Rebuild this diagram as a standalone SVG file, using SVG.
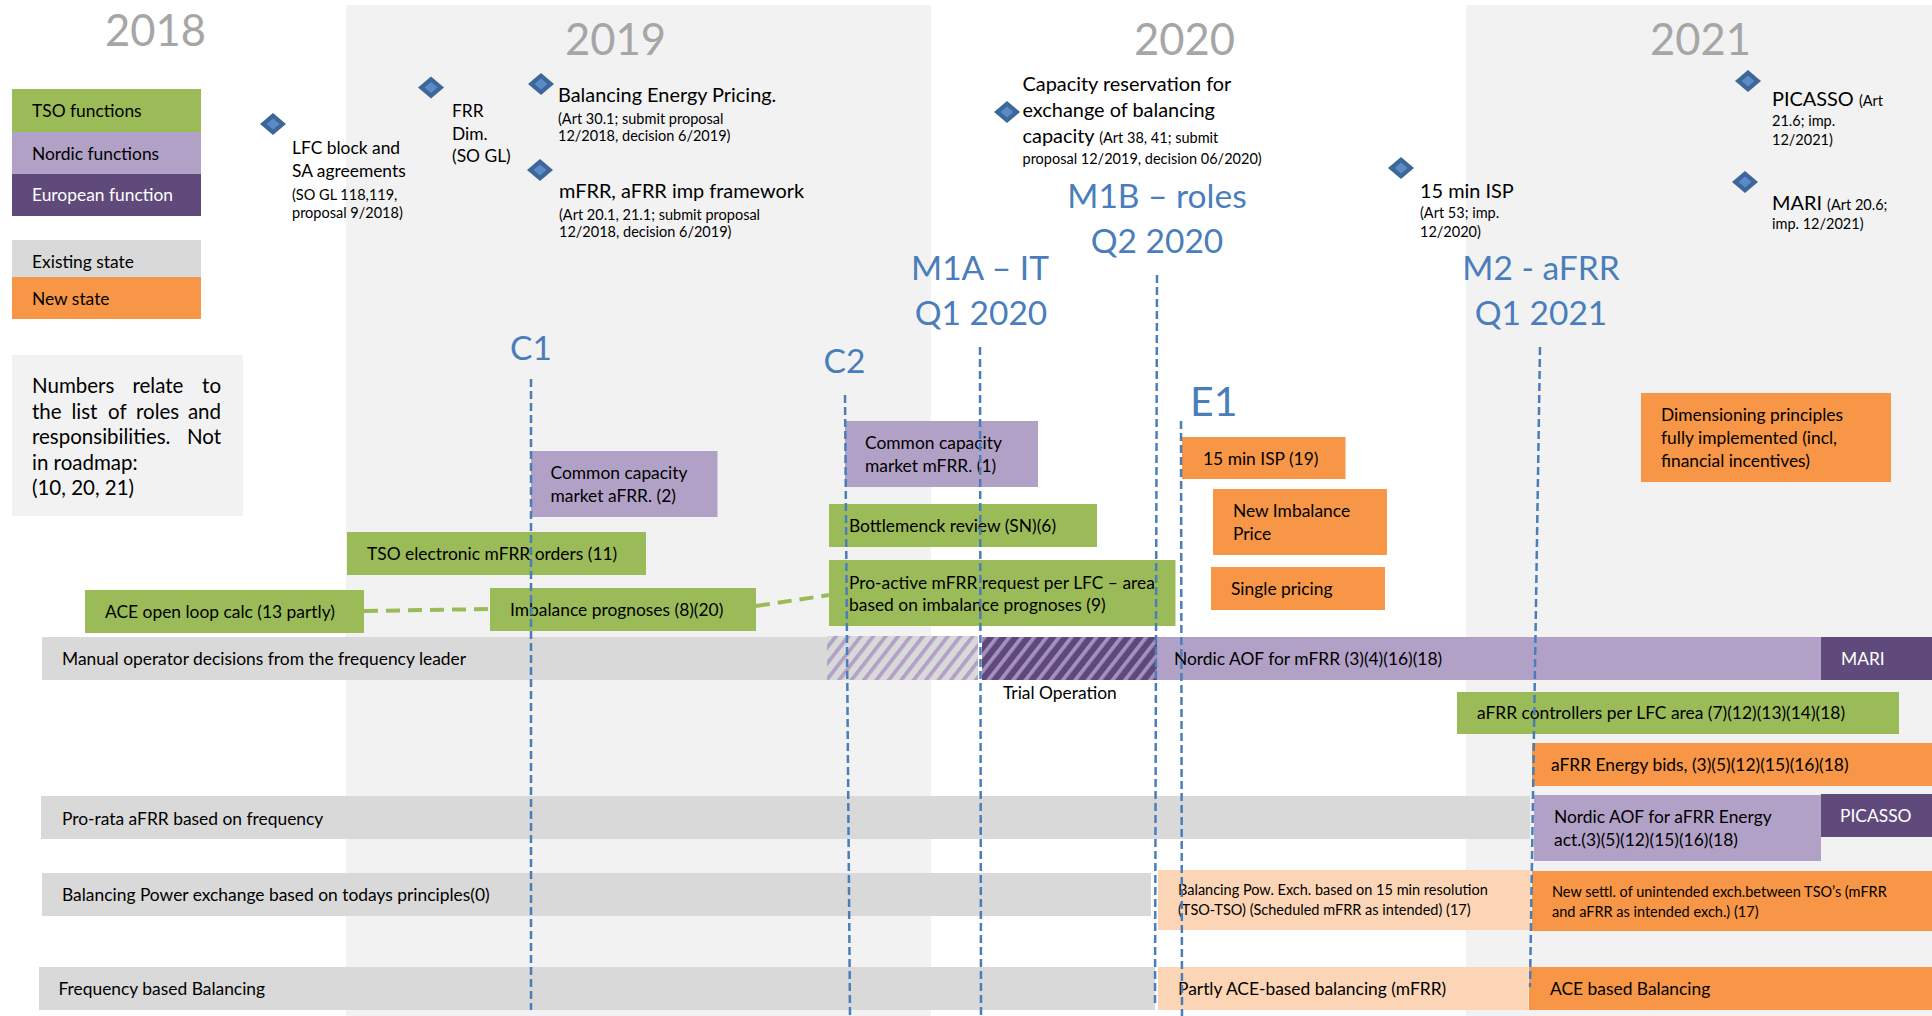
<svg xmlns="http://www.w3.org/2000/svg" xmlns:xlink="http://www.w3.org/1999/xlink" width="1932" height="1016" viewBox="0 0 1932 1016">
<style>
text{font-family:Lato,"Liberation Sans",sans-serif;fill:#000}
.b{font-size:17.4px}
.s{font-size:14.5px}
.m{font-size:19.9px}
.n{font-size:20.5px}
.ml{font-size:33.5px;fill:#4a7ebb}
.e1{font-size:41px;fill:#4a7ebb}
.yr{font-size:43.5px;fill:#a6a6a6}
.w{fill:#fff}
.tso{fill:#9bbb59}
.nor{fill:#b2a1c7}
.eur{fill:#604a7b}
.ex{fill:#d9d9d9}
.new{fill:#f79646}
.pea{fill:#fbd5b5}
.ms{stroke:#4a7ebb;stroke-width:2.5;stroke-dasharray:8 4;fill:none}
.gc{stroke:#9bbb59;stroke-width:4;stroke-dasharray:14 8;fill:none}
</style>
<defs>
<g id="dm"><path d="M0,-11 L13,0 L0,11 L-13,0Z" fill="#3e6697"/><path d="M0,-5.5 L6.5,0 L0,5.5 L-6.5,0Z" fill="#5a8bc9"/></g>
<pattern id="hl" patternUnits="userSpaceOnUse" width="9.8" height="20" patternTransform="rotate(38)">
<rect width="9.8" height="20" fill="#d9d9d9"/><rect width="3.7" height="20" fill="#b2a1c7"/>
</pattern>
<pattern id="hd" patternUnits="userSpaceOnUse" width="9.8" height="20" patternTransform="rotate(38)">
<rect width="9.8" height="20" fill="#5f497a"/><rect width="3.7" height="20" fill="#a591c0"/>
</pattern>
</defs>
<rect width="1932" height="1016" fill="#fff"/>
<g id="panels">
<rect x="346" y="5" width="585" height="1011" fill="#f2f2f2"/>
<rect x="1466" y="5" width="466" height="1011" fill="#f2f2f2"/>
</g>
<g id="years">
<text class="yr" x="105" y="46">2018</text>
<text class="yr" x="565" y="55">2019</text>
<text class="yr" x="1134" y="55">2020</text>
<text class="yr" x="1650" y="55">2021</text>
</g>
<g id="legend">
<rect class="tso" x="12" y="89" width="189" height="43"/>
<text class="b" x="32" y="117">TSO functions</text>
<rect class="nor" x="12" y="132" width="189" height="42"/>
<text class="b" x="32" y="160">Nordic functions</text>
<rect class="eur" x="12" y="174" width="189" height="42"/>
<text class="b w" x="32" y="201">European function</text>
<rect class="ex" x="12" y="240" width="189" height="37"/>
<text class="b" x="32" y="268">Existing state</text>
<rect class="new" x="12" y="277" width="189" height="42"/>
<text class="b" x="32" y="305">New state</text>
</g>
<g id="note">
<rect x="12" y="355" width="231" height="161" fill="#f2f2f2"/>
<text class="n" x="32" y="393">Numbers</text><text class="n" x="132.5" y="393">relate</text><text class="n" x="221" y="393" text-anchor="end">to</text>
<text class="n" x="32" y="418.5">the</text><text class="n" x="71.4" y="418.5">list</text><text class="n" x="108" y="418.5">of</text><text class="n" x="136" y="418.5">roles</text><text class="n" x="221" y="418.5" text-anchor="end">and</text>
<text class="n" x="32" y="444">responsibilities.</text><text class="n" x="221" y="444" text-anchor="end">Not</text>
<text class="n" x="32" y="469.5">in roadmap:</text>
<text class="n" x="32" y="495">(10, 20, 21)</text>
</g>
<g id="ms-lfc">
<use href="#dm" x="273" y="124"/>
<text class="b" x="292" y="154">LFC block and</text>
<text class="b" x="292" y="177">SA agreements</text>
<text class="s" x="292" y="200">(SO GL 118,119,</text>
<text class="s" x="292" y="218">proposal 9/2018)</text>
</g>
<g id="ms-frr">
<use href="#dm" x="431" y="87.5"/>
<text class="b" x="452" y="117">FRR</text>
<text class="b" x="452" y="140">Dim.</text>
<text class="b" x="452" y="162">(SO GL)</text>
</g>
<g id="ms-bep">
<use href="#dm" x="541" y="84"/>
<text class="m" x="558" y="102">Balancing Energy Pricing.</text>
<text class="s" x="558" y="124">(Art 30.1; submit proposal</text>
<text class="s" x="558" y="141">12/2018, decision 6/2019)</text>
</g>
<g id="ms-imp">
<use href="#dm" x="540" y="170"/>
<text class="m" x="559" y="198">mFRR, aFRR imp framework</text>
<text class="s" x="559" y="220">(Art 20.1, 21.1; submit proposal</text>
<text class="s" x="559" y="237">12/2018, decision 6/2019)</text>
</g>
<g id="ms-cap">
<use href="#dm" x="1007" y="112"/>
<text class="m" x="1022.5" y="91">Capacity reservation for</text>
<text class="m" x="1022.5" y="117">exchange of balancing</text>
<text class="m" x="1022.5" y="143">capacity <tspan class="s">(Art 38, 41; submit</tspan></text>
<text class="s" x="1022.5" y="164">proposal 12/2019, decision 06/2020)</text>
</g>
<g id="ms-isp">
<use href="#dm" x="1401" y="168"/>
<text class="m" x="1420" y="198">15 min ISP</text>
<text class="s" x="1420" y="218">(Art 53; imp.</text>
<text class="s" x="1420" y="237">12/2020)</text>
</g>
<g id="ms-picasso">
<use href="#dm" x="1748" y="81"/>
<text class="m" x="1772" y="106">PICASSO <tspan class="s">(Art</tspan></text>
<text class="s" x="1772" y="126">21.6; imp.</text>
<text class="s" x="1772" y="145">12/2021)</text>
</g>
<g id="ms-mari">
<use href="#dm" x="1745" y="182"/>
<text class="m" x="1772" y="210">MARI <tspan class="s">(Art 20.6;</tspan></text>
<text class="s" x="1772" y="229">imp. 12/2021)</text>
</g>
<g id="ms-labels">
<text class="ml" x="531" y="360" text-anchor="middle">C1</text>
<text class="ml" x="844.5" y="373" text-anchor="middle">C2</text>
<text class="ml" x="980" y="280" text-anchor="middle">M1A – IT</text>
<text class="ml" x="981" y="325" text-anchor="middle">Q1 2020</text>
<text class="ml" x="1157" y="208" text-anchor="middle">M1B – roles</text>
<text class="ml" x="1157" y="253" text-anchor="middle">Q2 2020</text>
<text class="ml" x="1541" y="280" text-anchor="middle">M2 - aFRR</text>
<text class="ml" x="1541" y="325" text-anchor="middle">Q1 2021</text>
<text class="e1" x="1190" y="416">E1</text>
</g>
<g id="n-ccm-afrr"><rect class="nor" x="531" y="451" width="186.5" height="66"/><text class="b" x="550.5" y="479">Common capacity</text><text class="b" x="550.5" y="502">market aFRR. (2)</text></g>
<g id="n-ccm-mfrr"><rect class="nor" x="845" y="421" width="193" height="66"/><text class="b" x="865" y="449">Common capacity</text><text class="b" x="865" y="472">market mFRR. (1)</text></g>
<g id="n-tso-orders"><rect class="tso" x="347" y="532" width="299" height="43"/><text class="b" x="367" y="560">TSO electronic mFRR orders (11)</text></g>
<g id="n-bottleneck"><rect class="tso" x="829" y="504" width="268" height="43"/><text class="b" x="849" y="532">Bottlemenck review (SN)(6)</text></g>
<g id="n-proactive"><rect class="tso" x="829" y="560" width="346.5" height="66"/><text class="b" x="849" y="589">Pro-active mFRR request per LFC – area</text><text class="b" x="849" y="611">based on imbalance prognoses (9)</text></g>
<g id="n-ace-open"><rect class="tso" x="85" y="590" width="279" height="43"/><text class="b" x="105" y="618">ACE open loop calc (13 partly)</text></g>
<g id="n-imb-prog"><rect class="tso" x="490" y="588" width="266" height="43"/><text class="b" x="510" y="616">Imbalance prognoses (8)(20)</text></g>
<g id="n-15isp"><rect class="new" x="1182" y="437" width="163.5" height="42"/><text class="b" x="1203" y="465">15 min ISP (19)</text></g>
<g id="n-new-imb"><rect class="new" x="1213" y="489" width="174" height="66"/><text class="b" x="1233" y="517">New Imbalance</text><text class="b" x="1233" y="540">Price</text></g>
<g id="n-single"><rect class="new" x="1211" y="567" width="174" height="43"/><text class="b" x="1231" y="595">Single pricing</text></g>
<g id="n-dim"><rect class="new" x="1641" y="393" width="250" height="89"/><text class="b" x="1661" y="421">Dimensioning principles</text><text class="b" x="1661" y="444">fully implemented (incl,</text><text class="b" x="1661" y="467">financial incentives)</text></g>
<g id="n-manual"><rect class="ex" x="42" y="637" width="785" height="43"/><text class="b" x="62" y="665">Manual operator decisions from the frequency leader</text></g>
<g id="n-transition"><rect x="827" y="636" width="151" height="44" fill="url(#hl)"/><rect x="982" y="637" width="175" height="43" fill="url(#hd)"/><text class="b" x="1003" y="699">Trial Operation</text></g>
<g id="n-aof-mfrr"><rect class="nor" x="1157" y="637" width="664" height="43"/><text class="b" x="1174" y="665">Nordic AOF for mFRR (3)(4)(16)(18)</text></g>
<g id="n-mari"><rect class="eur" x="1821" y="637" width="111" height="43"/><text class="b w" x="1841" y="665">MARI</text></g>
<g id="n-afrr-ctrl"><rect class="tso" x="1457" y="692" width="442" height="42"/><text class="b" x="1477" y="719">aFRR controllers per LFC area (7)(12)(13)(14)(18)</text></g>
<g id="n-afrr-bids"><rect class="new" x="1532" y="743" width="400" height="43"/><text class="b" x="1551" y="771">aFRR Energy bids, (3)(5)(12)(15)(16)(18)</text></g>
<g id="n-prorata"><rect class="ex" x="41" y="796" width="1489" height="43"/><text class="b" x="62" y="825">Pro-rata aFRR based on frequency</text></g>
<g id="n-aof-afrr"><rect class="nor" x="1534" y="795" width="287" height="66"/><text class="b" x="1554" y="823">Nordic AOF for aFRR Energy</text><text class="b" x="1554" y="846">act.(3)(5)(12)(15)(16)(18)</text></g>
<g id="n-picasso"><rect class="eur" x="1821" y="794" width="111" height="43"/><text class="b w" x="1840" y="822">PICASSO</text></g>
<g id="n-bp-exch"><rect class="ex" x="42" y="873" width="1109" height="43"/><text class="b" x="62" y="901">Balancing Power exchange based on todays principles(0)</text></g>
<g id="n-bp-15"><rect class="pea" x="1158" y="870" width="372.5" height="60"/><text class="s" x="1178" y="895">Balancing Pow. Exch. based on 15 min resolution</text><text class="s" x="1178" y="915">(TSO-TSO) (Scheduled mFRR as intended) (17)</text></g>
<g id="n-new-settl"><rect class="new" x="1532" y="871" width="400" height="60"/><text class="s" x="1552" y="897">New settl. of unintended exch.between TSO’s (mFRR</text><text class="s" x="1552" y="917">and aFRR as intended exch.) (17)</text></g>
<g id="n-freq-bal"><rect class="ex" x="39" y="967" width="1116" height="43"/><text class="b" x="58.5" y="995">Frequency based Balancing</text></g>
<g id="n-partly-ace"><rect class="pea" x="1158" y="967" width="370.5" height="43"/><text class="b" x="1178" y="995">Partly ACE-based balancing (mFRR)</text></g>
<g id="n-ace-bal"><rect class="new" x="1529" y="967" width="403" height="43"/><text class="b" x="1550" y="995">ACE based Balancing</text></g>
<g id="connectors">
<line class="gc" x1="364" y1="611" x2="490" y2="609"/>
<line class="gc" x1="756" y1="606" x2="829" y2="595"/>
</g>
<g id="milestone-lines">
<line class="ms" x1="531" y1="379" x2="531" y2="1010"/>
<line class="ms" x1="845" y1="395" x2="850" y2="1016"/>
<line class="ms" x1="980" y1="347" x2="981" y2="1016"/>
<line class="ms" x1="1157" y1="275" x2="1155" y2="1005"/>
<line class="ms" x1="1181" y1="421" x2="1182" y2="1016"/>
<line class="ms" x1="1540" y1="347" x2="1530" y2="987"/>
</g>
</svg>
